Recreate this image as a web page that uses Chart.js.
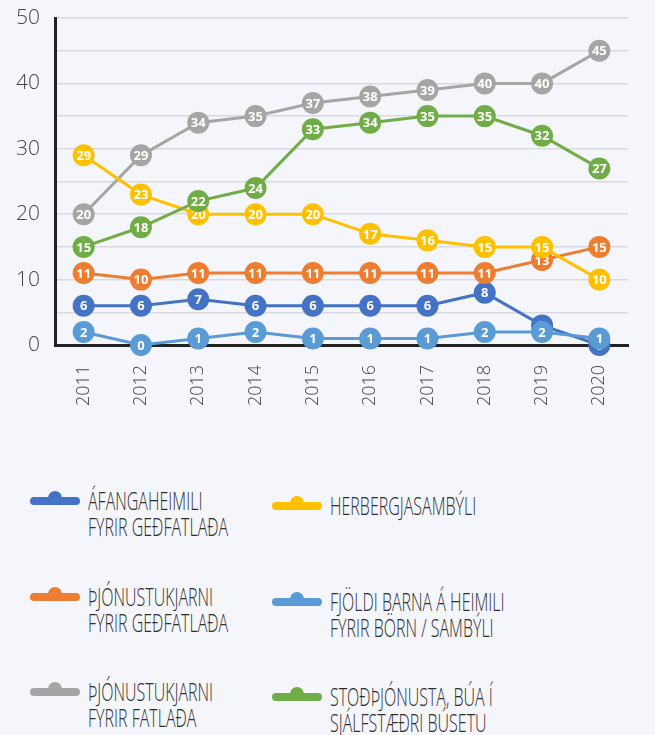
<!DOCTYPE html>
<html>
<head>
<meta charset="utf-8">
<script src="https://cdn.jsdelivr.net/npm/chart.js@4/dist/chart.umd.min.js"></script>
<style>
  body { margin: 0; background: #f5f6fb; width: 655px; height: 735px; overflow: hidden; position: relative; font-family: "Open Sans", sans-serif; }
  #wrap { position: absolute; left: 0; top: 0; width: 655px; height: 420px; }
  .item { position: absolute; }
  .mk { position: absolute; left: 0; top: 0; width: 50px; height: 8px; border-radius: 4px; }
  .mk::after { content: ''; position: absolute; left: 18px; top: -6px; width: 14px; height: 14px; border-radius: 50%; background: inherit; }
  .txt { position: absolute; left: 58px; top: -10px; white-space: nowrap; font-size: 25px; font-weight: 300; line-height: 26px; color: #2e2e2e; transform: scaleX(.64); transform-origin: 0 0; }
</style>
</head>
<body>
<div id="wrap"><canvas id="myChart"></canvas></div>
<div id="legend"></div>
<script>
// Gögn
const years = ['2011', '2012', '2013', '2014', '2015', '2016', '2017', '2018', '2019', '2020'];
const afangaheimili = [6, 6, 7, 6, 6, 6, 6, 8, 3, 0];
const thjonustukjarniGed = [11, 10, 11, 11, 11, 11, 11, 11, 13, 15];
const thjonustukjarniFatl = [20, 29, 34, 35, 37, 38, 39, 40, 40, 45];
const herbergjasambyli = [29, 23, 20, 20, 20, 17, 16, 15, 15, 10];
const fjoldiBarna = [2, 0, 1, 2, 1, 1, 1, 2, 2, 1];
const stodthjonusta = [15, 18, 22, 24, 33, 34, 35, 35, 32, 27];
const seriesLabels = [
    ['ÁFANGAHEIMILI', 'FYRIR GEÐFATLAÐA'],
    ['ÞJÓNUSTUKJARNI', 'FYRIR GEÐFATLAÐA'],
    ['ÞJÓNUSTUKJARNI', 'FYRIR FATLAÐA'],
    ['HERBERGJASAMBÝLI'],
    ['FJÖLDI BARNA Á HEIMILI', 'FYRIR BÖRN / SAMBÝLI'],
    ['STOÐÞJÓNUSTA, BÚA Í', 'SJÁLFSTÆÐRI BÚSETU']
];
const seriesValues = [afangaheimili, thjonustukjarniGed, thjonustukjarniFatl, herbergjasambyli, fjoldiBarna, stodthjonusta];
const colors = ['#4472c4', '#ed7d31', '#a5a5a5', '#ffc000', '#5b9bd5', '#70ad47'];

// Tölur inni í punktunum
const pointLabels = {
    id: 'pointLabels',
    afterDatasetDraw(chart, args) {
        const ctx = chart.ctx;
        const ds = chart.data.datasets[args.index];
        ctx.save();
        ctx.font = 'bold 13px "Open Sans"';
        ctx.fillStyle = '#fff';
        ctx.textAlign = 'center';
        ctx.textBaseline = 'middle';
        args.meta.data.forEach((pt, i) => ctx.fillText(ds.data[i], pt.x, pt.y + 1));
        ctx.restore();
    }
};

const datasets = seriesValues.map((vals, i) => ({
    label: seriesLabels[i].join(' '),
    data: vals,
    borderColor: colors[i],
    backgroundColor: colors[i],
    pointBackgroundColor: colors[i],
    borderWidth: 3,
    pointRadius: 11,
    pointBorderWidth: 0,
    pointHoverRadius: 11,
    clip: false,
    order: seriesValues.length - i
}));

const ctx = document.getElementById('myChart').getContext('2d');
const myChart = new Chart(ctx, {
    type: 'line',
    data: { labels: years, datasets: datasets },
    plugins: [pointLabels],
    options: {
        responsive: true,
        maintainAspectRatio: false,
        animation: false,
        layout: { padding: { top: 18, right: 27, bottom: 15, left: 0 } },
        plugins: { legend: { display: false }, tooltip: { enabled: false } },
        scales: {
            x: {
                offset: true,
                grid: { display: false },
                border: { display: true, color: '#222', width: 3 },
                ticks: { maxRotation: 90, minRotation: 90, padding: 12, color: '#444', font: { family: 'Open Sans', size: 18, weight: 300 } },
                afterFit: s => { s.height = 60; s.paddingLeft = 0; s.paddingRight = 0; }
            },
            y: {
                min: 0,
                max: 50,
                grid: { color: '#d9dadf', lineWidth: 1.5, drawTicks: false },
                border: { display: true, color: '#222', width: 3 },
                ticks: {
                    stepSize: 5,
                    padding: 15,
                    color: '#444',
                    font: { family: 'Open Sans', size: 21, weight: 300 },
                    callback: v => (v % 10 === 0 ? v : '')
                },
                afterFit: s => { s.width = 55; s.paddingTop = 0; s.paddingBottom = 0; }
            }
        }
    }
});

// Skýringar
const legendPos = [[30, 501], [30, 597], [30, 692], [272, 506], [272, 602], [272, 697]];
const legend = document.getElementById('legend');
seriesLabels.forEach((lines, i) => {
    const item = document.createElement('div');
    item.className = 'item';
    item.style.left = legendPos[i][0] + 'px';
    item.style.top = (legendPos[i][1] - 4) + 'px';
    item.innerHTML = '<div class="mk" style="background:' + colors[i] + '"></div><div class="txt">' + lines.join('<br>') + '</div>';
    legend.appendChild(item);
});
</script>
</body>
</html>
